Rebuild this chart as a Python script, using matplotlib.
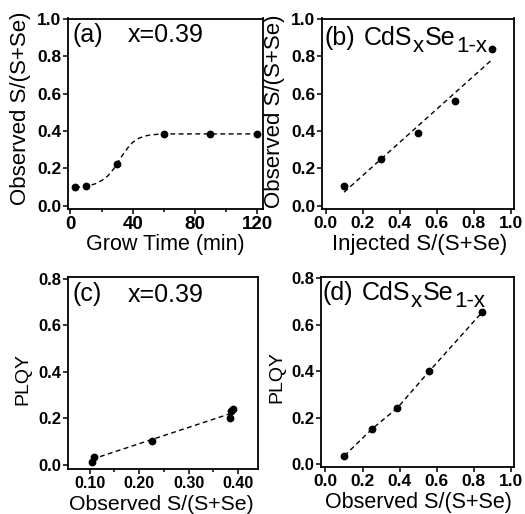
import matplotlib
matplotlib.use("Agg")
import matplotlib.pyplot as plt
import matplotlib.ticker as mticker
import numpy as np

plt.rcParams['font.family'] = ['Liberation Sans', 'DejaVu Sans']

# ---- data ----
# (a) observed S fraction vs growth time
grow_time = [3, 10, 30, 60, 90, 120]
obs_s_time = [0.100, 0.104, 0.225, 0.385, 0.386, 0.386]
# dashed sigmoid fit
fit_a_x = [3, 10, 16, 20, 24, 28, 31, 34, 37, 40, 44, 48, 52, 56, 60, 90, 120]
fit_a_y = [0.100, 0.104, 0.118, 0.135, 0.160, 0.200, 0.240, 0.278, 0.312, 0.340,
           0.362, 0.374, 0.380, 0.383, 0.385, 0.385, 0.385]

# (b) observed vs injected S fraction
injected_s = [0.10, 0.30, 0.50, 0.70, 0.90]
observed_s_b = [0.105, 0.25, 0.388, 0.56, 0.84]
fit_b_x = [0.10, 0.90]
fit_b_y = [0.073, 0.785]

# (c) PLQY vs observed S (x=0.39 growth series)
obs_s_c = [0.105, 0.108, 0.227, 0.383, 0.386, 0.389]
plqy_c = [0.011, 0.033, 0.103, 0.200, 0.229, 0.240]
fit_c_x = [0.105, 0.385]
fit_c_y = [0.023, 0.220]

# (d) PLQY vs observed S (composition series)
obs_s_d = [0.102, 0.251, 0.386, 0.560, 0.844]
plqy_d = [0.036, 0.152, 0.241, 0.401, 0.654]

W, H = 525, 514
fig = plt.figure(figsize=(W / 100, H / 100), dpi=100)


def rect(l, r, t, b):
    return [l / W, (H - b) / H, (r - l) / W, (b - t) / H]


ax_a = fig.add_axes(rect(68, 263, 18.5, 209))
ax_b = fig.add_axes(rect(322, 514, 18.5, 209))
ax_c = fig.add_axes(rect(68, 258, 277, 469))
ax_d = fig.add_axes(rect(321, 514, 277, 467))

mk = dict(marker='o', color='black', markersize=4.6, linestyle='none', zorder=3)
ln = dict(color='black', linewidth=1.0, linestyle=(0, (3.5, 2.5)), zorder=2)

ax_a.plot(fit_a_x, fit_a_y, **ln)
ax_a.plot(grow_time, obs_s_time, **mk)

ax_b.plot(fit_b_x, fit_b_y, **ln)
ax_b.plot(injected_s, observed_s_b, **mk)

ax_c.plot(fit_c_x, fit_c_y, **ln)
ax_c.plot(obs_s_c, plqy_c, **mk)

ax_d.plot(obs_s_d, plqy_d, **ln)
ax_d.plot(obs_s_d, plqy_d, **mk)

# limits and ticks
ax_a.set_xlim(-1.6, 123.8)
ax_a.set_ylim(-0.017, 1.003)
ax_a.set_xticks([0, 40, 80, 120])
ax_a.set_xticks([20, 60, 100], minor=True)
ax_a.set_yticks(np.arange(0, 1.01, 0.2))

ax_b.set_xlim(-0.019, 1.016)
ax_b.set_ylim(-0.017, 1.003)
ax_b.set_xticks(np.arange(0, 1.01, 0.2))
ax_b.set_yticks(np.arange(0, 1.01, 0.2))

ax_c.set_xlim(0.0565, 0.44)
ax_c.set_ylim(-0.019, 0.808)
ax_c.set_xticks([0.10, 0.20, 0.30, 0.40])
ax_c.set_xticks([0.15, 0.25, 0.35], minor=True)
ax_c.set_yticks(np.arange(0, 0.81, 0.2))

ax_d.set_xlim(-0.024, 1.016)
ax_d.set_ylim(-0.012, 0.806)
ax_d.set_xticks(np.arange(0, 1.01, 0.2))
ax_d.set_yticks(np.arange(0, 0.81, 0.2))

ax_c.xaxis.set_major_formatter(mticker.FormatStrFormatter('%.2f'))
for ax in (ax_b, ax_d):
    ax.xaxis.set_major_formatter(mticker.FormatStrFormatter('%.1f'))
for ax in (ax_a, ax_b, ax_c, ax_d):
    ax.yaxis.set_major_formatter(mticker.FormatStrFormatter('%.1f'))

tick_sizes = {ax_a: (13.5, 12.5), ax_b: (12.5, 12.5), ax_c: (11.5, 12), ax_d: (12.5, 12)}
for ax, (xs, ys) in tick_sizes.items():
    for s in ax.spines.values():
        s.set_linewidth(1.3)
    ax.tick_params(which='major', direction='out', length=3.5, width=1.1, pad=1.2)
    ax.tick_params(which='minor', direction='out', length=2.2, width=1.1)
    ax.tick_params(axis='x', labelsize=xs)
    ax.tick_params(axis='y', labelsize=ys)
    for lab in ax.get_xticklabels() + ax.get_yticklabels():
        lab.set_fontweight('bold')

# axis labels
ax_a.set_ylabel('Observed S/(S+Se)', fontsize=16, va='center')
ax_a.yaxis.set_label_coords(-0.245, 0.528)
ax_a.set_xlabel('Grow Time (min)', fontsize=15.5, va='center')
ax_a.xaxis.set_label_coords(0.5015, -0.184)

ax_b.set_ylabel('Observed S/(S+Se)', fontsize=16, va='center')
ax_b.yaxis.set_label_coords(-0.245, 0.514)
ax_b.set_xlabel('Injected S/(S+Se)', fontsize=16, va='center')
ax_b.xaxis.set_label_coords(0.51, -0.184)

ax_c.set_ylabel('PLQY', fontsize=14, va='center')
ax_c.yaxis.set_label_coords(-0.238, 0.469)
ax_c.set_xlabel('Observed S/(S+Se)', fontsize=15.3, va='center')
ax_c.xaxis.set_label_coords(0.493, -0.1875)

ax_d.set_ylabel('PLQY', fontsize=14, va='center')
ax_d.yaxis.set_label_coords(-0.23, 0.475)
ax_d.set_xlabel('Observed S/(S+Se)', fontsize=15.5, va='center')
ax_d.xaxis.set_label_coords(0.503, -0.1875)

renderer = fig.canvas.get_renderer()


# panel annotations (pixel positions -> figure coords)
def ftext(x, y, s, size=18):
    t = fig.text(x / W, (H - y) / H, s, va='baseline', ha='left', fontsize=size)
    bb = t.get_window_extent(renderer)
    return bb.x1  # right edge in pixels


def formula(x, y, drop=7):
    # "CdS" + sub "x" + "Se" + sub "1-x", chained left to right
    x = ftext(x, y, 'CdS')
    x = ftext(x + 0.5, y + drop, 'x', 16)
    x = ftext(x + 0.5, y, 'Se')
    ftext(x + 0.5, y + drop, '1-x', 16)


ftext(72, 42, '(a)')
ftext(128, 42, 'x=0.39')
ftext(325, 45, '(b)')
formula(364, 45)

ftext(72, 301.5, '(c)')
ftext(128, 301.5, 'x=0.39')
ftext(323, 300, '(d)')
formula(362, 300)

fig.savefig('out.png', dpi=100)
